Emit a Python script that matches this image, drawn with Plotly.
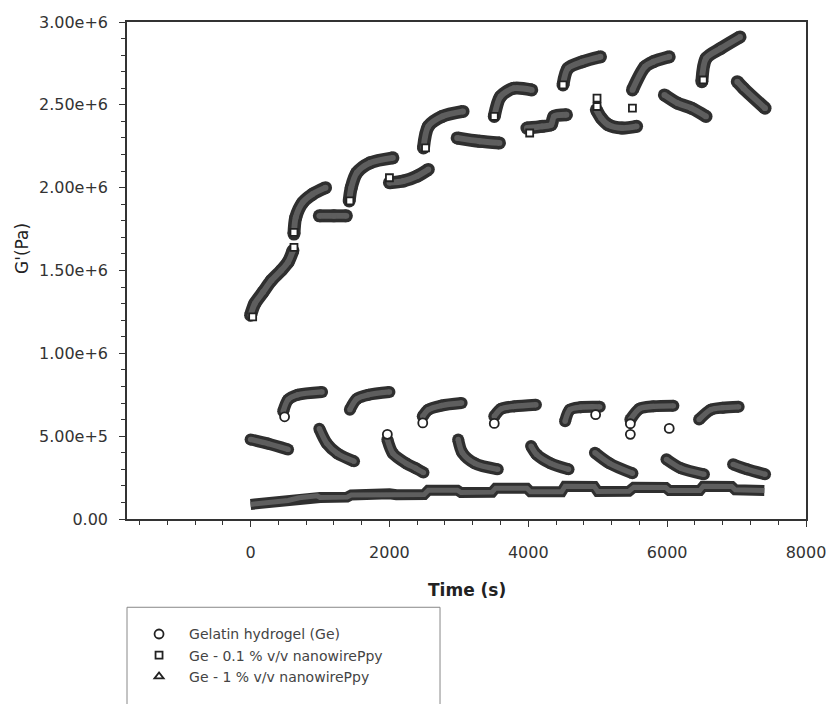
import plotly.graph_objects as go

# ---------------- data (time in s, G' in Pa) ----------------
# Gelatin hydrogel (Ge): segments separated by None
ge_t = [470, 540, 680, 1030, None,
        1430, 1530, 1700, 2000, None,
        2480, 2560, 2750, 3040, None,
        3510, 3610, 3800, 4110, None,
        4530, 4600, 4750, 5030, None,
        5470, 5600, 5800, 6090, None,
        6460, 6630, 6800, 7030, None,
        0, 250, 540, None,
        990, 1100, 1250, 1490, None,
        1970, 2050, 2240, 2380, 2490, None,
        2990, 3050, 3230, 3560, None,
        4040, 4120, 4320, 4580, None,
        4960, 5170, 5500, None,
        5990, 6200, 6530, None,
        6950, 7150, 7410]
ge_g = [6.5e5, 7.2e5, 7.5e5, 7.67e5, None,
        6.6e5, 7.25e5, 7.5e5, 7.67e5, None,
        6.2e5, 6.6e5, 6.85e5, 7.0e5, None,
        6.2e5, 6.65e5, 6.8e5, 6.9e5, None,
        5.9e5, 6.6e5, 6.75e5, 6.77e5, None,
        6.0e5, 6.65e5, 6.8e5, 6.83e5, None,
        6.0e5, 6.6e5, 6.72e5, 6.77e5, None,
        4.8e5, 4.55e5, 4.2e5, None,
        5.45e5, 4.55e5, 3.96e5, 3.48e5, None,
        4.8e5, 3.96e5, 3.36e5, 3.06e5, 2.8e5, None,
        4.8e5, 4.0e5, 3.36e5, 3.0e5, None,
        4.4e5, 3.9e5, 3.36e5, 3.0e5, None,
        4.0e5, 3.36e5, 2.76e5, None,
        3.6e5, 3.06e5, 2.7e5, None,
        3.3e5, 3.0e5, 2.7e5]
ge_open_t = [490, 1970, 2480, 3510, 4970, 5470, 5470, 6030]
ge_open_g = [6.17e5, 5.11e5, 5.8e5, 5.77e5, 6.3e5, 5.75e5, 5.11e5, 5.47e5]

# Ge - 0.1 % v/v nanowirePpy
p01_t = [0, 60, 180, 300, 440, 540, 610, None,
         625, 650, 750, 890, 1080, None,
         990, 1200, 1380, None,
         1420, 1450, 1530, 1720, 2050, None,
         2000, 2200, 2400, 2560, None,
         2490, 2560, 2760, 3060, None,
         2975, 3300, 3585, None,
         3510, 3600, 3790, 4050, None,
         3980, 4200, 4330, 4370, 4550, None,
         4500, 4570, 4780, 5040, None,
         4980, 5050, 5150, 5350, 5560, None,
         5500, 5680, 5800, 6030, None,
         5960, 6150, 6350, 6560, None,
         6500, 6560, 6770, 7050, None,
         7010, 7100, 7410]
p01_g = [1.23e6, 1.30e6, 1.37e6, 1.44e6, 1.50e6, 1.55e6, 1.62e6, None,
         1.72e6, 1.82e6, 1.91e6, 1.96e6, 2.0e6, None,
         1.83e6, 1.83e6, 1.83e6, None,
         1.92e6, 2.0e6, 2.09e6, 2.15e6, 2.18e6, None,
         2.03e6, 2.04e6, 2.07e6, 2.11e6, None,
         2.24e6, 2.37e6, 2.43e6, 2.46e6, None,
         2.30e6, 2.28e6, 2.27e6, None,
         2.43e6, 2.55e6, 2.60e6, 2.59e6, None,
         2.36e6, 2.37e6, 2.38e6, 2.43e6, 2.44e6, None,
         2.62e6, 2.72e6, 2.76e6, 2.79e6, None,
         2.47e6, 2.42e6, 2.38e6, 2.36e6, 2.37e6, None,
         2.59e6, 2.73e6, 2.76e6, 2.79e6, None,
         2.56e6, 2.51e6, 2.48e6, 2.43e6, None,
         2.64e6, 2.78e6, 2.84e6, 2.91e6, None,
         2.64e6, 2.60e6, 2.48e6]
p01_open_t = [30, 625, 625, 1430, 2000, 2520, 3510, 4020, 4500, 4990, 4990, 5500, 6520]
p01_open_g = [1.22e6, 1.64e6, 1.73e6, 1.92e6, 2.06e6, 2.24e6, 2.43e6, 2.33e6,
              2.62e6, 2.54e6, 2.49e6, 2.48e6, 2.65e6]

# Ge - 1 % v/v nanowirePpy
p1_t = [0, 300, 540, 700, 960, 1000, 1390, 1450, 2000, 2100, 2500, 2560, 2980,
        3030, 3480, 3530, 3980, 4030, 4480, 4530, 4950, 5000, 5450, 5520, 5980,
        6030, 6470, 6520, 6930, 6980, 7400]
p1_g = [0.88e5, 1.0e5, 1.12e5, 1.28e5, 1.40e5, 1.30e5, 1.32e5, 1.45e5, 1.52e5,
        1.46e5, 1.48e5, 1.74e5, 1.74e5, 1.60e5, 1.62e5, 1.86e5, 1.86e5, 1.64e5,
        1.64e5, 1.98e5, 1.96e5, 1.66e5, 1.68e5, 1.92e5, 1.90e5, 1.72e5, 1.72e5,
        1.98e5, 1.96e5, 1.76e5, 1.72e5]

y_tickvals = [0, 5e5, 1e6, 1.5e6, 2e6, 2.5e6, 3e6]
y_ticktext = ["0.00", "5.00e+5", "1.00e+6", "1.50e+6", "2.00e+6", "2.50e+6", "3.00e+6"]
x_tickvals = [0, 2000, 4000, 6000, 8000]
x_ticktext = ["0", "2000", "4000", "6000", "8000"]

names = ["Gelatin hydrogel (Ge)", "Ge - 0.1 % v/v nanowirePpy", "Ge - 1 % v/v nanowirePpy"]

FONT = "DejaVu Sans"
fig = go.Figure()

def band(t, g, width, shape, with_markers=True):
    mode = "lines+markers" if with_markers else "lines"
    fig.add_trace(go.Scatter(x=t, y=g, mode=mode, showlegend=False,
                             hoverinfo="skip",
                             line=dict(color="#2f2f2f", width=width, shape=shape, smoothing=0.8),
                             marker=dict(color="#2f2f2f", size=width, line=dict(width=0))))
    fig.add_trace(go.Scatter(x=t, y=g, mode=mode, showlegend=False,
                             hoverinfo="skip",
                             line=dict(color="#5e5e5e", width=width * 0.45, shape=shape, smoothing=0.8),
                             marker=dict(color="#5e5e5e", size=width * 0.45, line=dict(width=0))))

band(ge_t, ge_g, 12, "spline")
band(p01_t, p01_g, 13, "spline")
band(p1_t, p1_g, 11, "linear", with_markers=False)

fig.add_trace(go.Scatter(x=ge_open_t, y=ge_open_g, mode="markers", name=names[0],
                         marker=dict(symbol="circle", size=9, color="white",
                                     line=dict(color="#222", width=1.8))))
fig.add_trace(go.Scatter(x=p01_open_t, y=p01_open_g, mode="markers", name=names[1],
                         marker=dict(symbol="square", size=7, color="white",
                                     line=dict(color="#222", width=1.8))))
fig.add_trace(go.Scatter(x=[None], y=[None], mode="markers", name=names[2],
                         marker=dict(symbol="triangle-up", size=8, color="white",
                                     line=dict(color="#222", width=1.8))))

axis_common = dict(showgrid=False, zeroline=False, showline=True, linecolor="#333",
                   linewidth=1.5, mirror=True, ticks="outside", ticklen=6, tickwidth=1.2,
                   tickcolor="#333", tickfont=dict(family=FONT, size=16, color="#333"))

fig.update_xaxes(range=[-1780, 8000], tickmode="array", tickvals=x_tickvals,
                 ticktext=x_ticktext, ticklabelstandoff=12,
                 minor=dict(dtick=400, tick0=0, ticks="outside", ticklen=4, tickcolor="#333"),
                 **axis_common)
fig.update_yaxes(range=[0, 3e6], tickmode="array", tickvals=y_tickvals,
                 ticktext=y_ticktext, ticklabelstandoff=8,
                 minor=dict(dtick=1e5, tick0=0, ticks="outside", ticklen=4, tickcolor="#333"),
                 **axis_common)

fig.add_annotation(text="Time (s)", xref="paper", yref="paper", x=0.5, y=-0.142,
                   xanchor="center", yanchor="middle", showarrow=False,
                   font=dict(family=FONT, size=17, color="#222", weight="bold"))
fig.add_annotation(text="G'(Pa)", xref="paper", yref="paper", x=-0.155, y=0.545,
                   xanchor="center", yanchor="middle", showarrow=False, textangle=-90,
                   font=dict(family=FONT, size=17, color="#222"))

# legend frame (open at the bottom edge of the picture)
fig.add_shape(type="path", xref="paper", yref="paper",
              path="M 0,-1.0 L 0,-0.1776 L 0.461,-0.1776 L 0.461,-1.0",
              line=dict(color="#888", width=1))

fig.update_layout(
    width=838, height=704,
    margin=dict(l=127, r=21, t=22, b=181),
    paper_bgcolor="white", plot_bgcolor="white",
    legend=dict(x=0.003, y=-0.2, xanchor="left", yanchor="top",
                bgcolor="rgba(0,0,0,0)", borderwidth=0,
                font=dict(family=FONT, size=14, color="#444"), itemwidth=50,
                tracegroupgap=0),
)

fig.write_html("out.html")
